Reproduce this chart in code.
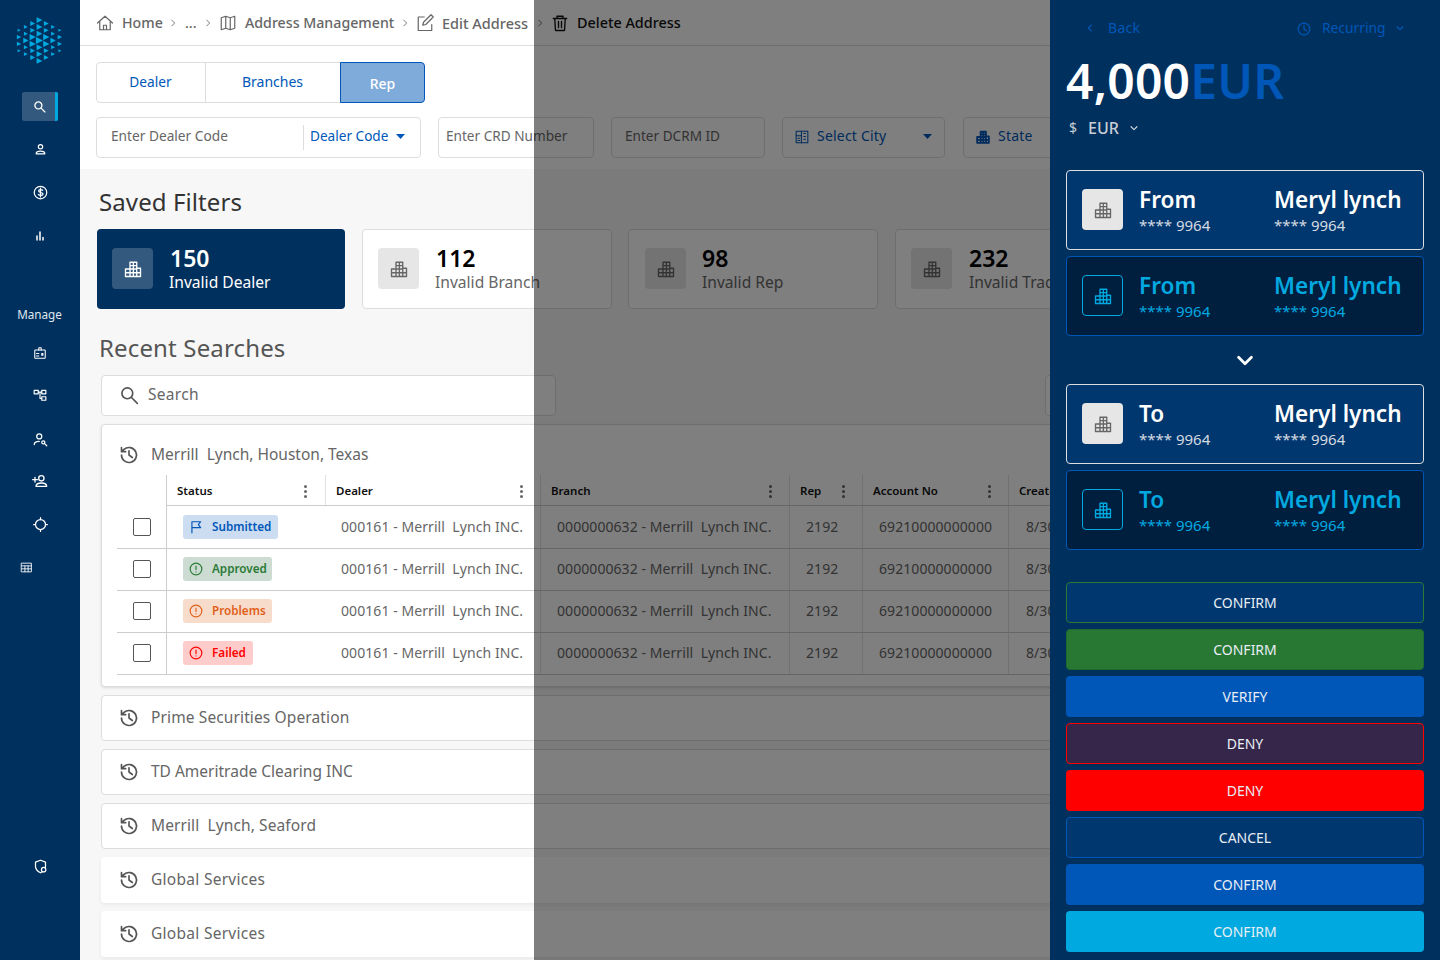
<!DOCTYPE html>
<html>
<head>
<meta charset="utf-8">
<title>Delete Address</title>
<script src="https://cdn.jsdelivr.net/npm/chart.js@4"></script>
<style>
* { box-sizing: border-box; }
html, body { margin: 0; width: 1440px; height: 960px; overflow: hidden; background: #fff; }
body { font-family: "Noto Sans", sans-serif; color: #555; position: relative; }
.a { position: absolute; white-space: pre; }
.t { position: absolute; white-space: pre; line-height: 1; transform: translateY(-50%); }
svg { position: absolute; display: block; overflow: visible; }
</style>
</head>
<body>
<div id="page"></div>
<script>
const tabs = ['Dealer', 'Branches', 'Rep'];
const filterCounts = [150, 112, 98, 232];
const filterNames = ['Invalid Dealer', 'Invalid Branch', 'Invalid Rep', 'Invalid Trade'];
const headers = ['Status', 'Dealer', 'Branch', 'Rep', 'Account No', 'Created'];
const statuses = ['Submitted', 'Approved', 'Problems', 'Failed'];
const dealerCell = '000161 - Merrill  Lynch INC.';
const branchCell = '0000000632 - Merrill  Lynch INC.';
const repCell = '2192';
const accountCell = '69210000000000';
const createdCell = '8/30/2021';
const searches = ['Prime Securities Operation', 'TD Ameritrade Clearing INC', 'Merrill  Lynch, Seaford', 'Global Services', 'Global Services'];
const buttons = ['CONFIRM', 'CONFIRM', 'VERIFY', 'DENY', 'DENY', 'CANCEL', 'CONFIRM', 'CONFIRM'];

const navy = '#00305e', blue = '#0057b8', cyan = '#00a9e0';
const page = document.getElementById('page');
let html = '';

function rect(x, y, w, h, css) { html += `<div class="a" style="left:${x}px;top:${y}px;width:${w}px;height:${h}px;${css || ''}"></div>`; }
function text(x, y, s, size, color, weight, extra) {
    html += `<div class="t" style="left:${x}px;top:${y}px;font-size:${size}px;color:${color};font-weight:${weight || 400};${extra || ''}">${s}</div>`;
}
function icon(x, y, size, body, color, sw) {
    html += `<svg style="left:${x - size / 2}px;top:${y - size / 2}px" width="${size}" height="${size}" viewBox="0 0 24 24" fill="none" stroke="${color}" stroke-width="${sw || 2}" stroke-linecap="round" stroke-linejoin="round">${body}</svg>`;
}

const ICON = {
    home: '<path d="M2 12 12 3l10 9M5 9.500V21h14V9.500M10 21v-6h4v6"/>',
    map: '<path d="M3 5l6-2 6 2 6-2v16l-6 2-6-2-6 2zM9 3v16M15 5v16"/>',
    edit: '<path d="M11 4H3v18h18v-8M9 15l1-4L20 1l3 3-10 10z"/>',
    trash: '<path d="M3 6h18M8 6V3h8v3M5 6l1 16h12l1-16M10 10v8M14 10v8"/>',
    search: '<circle cx="10" cy="10" r="6.500"/><path d="M15 15l7 7"/>',
    person: '<circle cx="12" cy="7" r="4"/><path d="M4 20c0-4 3-5 8-5s8 1 8 5z"/>',
    dollar: '<circle cx="12" cy="12" r="10"/><path d="M15.500 8.500c-1-1.500-6.500-2-6.500 1 0 3.500 7 1.500 7 5 0 3-6 2.500-7.500 .5M12 5v14"/>',
    bars: '<path d="M6 12v8M12 4v16M18 15v5"/>',
    badge: '<rect x="3" y="7" width="18" height="14" rx="1"/><path d="M10 7V3h4v4M6 13h4M6 17h4M15 13h2v3h-2z"/>',
    tree: '<rect x="2" y="4" width="7" height="6"/><rect x="15" y="4" width="7" height="6"/><rect x="15" y="15" width="7" height="6"/><path d="M9 7h6M12 7v11h3"/>',
    personSearch: '<circle cx="10" cy="7" r="4"/><path d="M2 20c0-4 3-5 8-5M19 16.500a2.500 2.500 0 1 1-5 0 2.500 2.500 0 0 1 5 0zM19 19l3 3"/>',
    personAdd: '<circle cx="14" cy="8" r="4"/><path d="M6 20c0-3 3-5 8-5s8 2 8 5zM1 10h7M4.500 6.500v7"/>',
    target: '<circle cx="12" cy="12" r="8"/><path d="M12 1v3M12 20v3M1 12h3M20 12h3"/>',
    grid: '<rect x="3" y="4" width="18" height="16"/><path d="M3 9h18M3 14.500h18M9 9v11M15 9v11"/>',
    shield: '<path d="M12 2l8 3v7c0 5-4 8-8 10-4-2-8-5-8-10V5z"/><circle cx="17" cy="17" r="3.500" fill="#00305e"/>',
    history: '<path d="M3 12a9 9 0 1 0 3-6.700L3 8M3 3v5h5M12 7v5l4 3"/>',
    flag: '<path d="M5 22V3h15l-4 5 4 5H5"/>',
    alert: '<circle cx="12" cy="12" r="10"/><path d="M12 7v6M12 17v.2"/>',
    clock: '<circle cx="12" cy="12" r="10"/><path d="M12 6v6l4 3"/>',
    building: '<path d="M2 22V12h6V3h9v8h5v11zM2 17h20M8 12h9M8 7.500h9M8 3v19M12.500 3v19M17 11v11"/>',
    city: '<rect x="2" y="2" width="20" height="20"/><path d="M2 10h9M11 2v20M5 14h3M5 18h3M15 6h3M15 11h3M15 16h3"/>',
    chevDown: '<path d="M5 9l7 7 7-7"/>',
    chevRight: '<path d="M9 5l7 7-7 7"/>',
    chevLeft: '<path d="M15 5l-7 7 7 7"/>',
};
function caret(x, y, color) {
    html += `<svg style="left:${x}px;top:${y}px" width="9" height="5" viewBox="0 0 9 5"><path d="M0 0h9L4.500 5z" fill="${color}"/></svg>`;
}
function kebab(x, y) {
    for (let i = 0; i < 3; i++) rect(x - 1.5, y - 6 + i * 5, 3, 3, 'background:#666;border-radius:50%');
}

// main page
rect(80, 45, 970, 1, 'background:#ddd');
rect(80, 169, 970, 791, 'background:#f7f7f7');

// breadcrumb
icon(105, 23, 18, ICON.home, '#666', 1.6);
text(122, 23, 'Home', 14.2, '#666', 500);
icon(173, 23, 10, ICON.chevRight, '#666');
text(185, 23, '...', 14.2, '#666', 500);
icon(208, 23, 10, ICON.chevRight, '#666');
icon(228, 23, 18, ICON.map, '#666', 1.6);
text(245, 23, 'Address Management', 14.2, '#666', 500);
icon(405, 23, 10, ICON.chevRight, '#666');
icon(425, 23, 18, ICON.edit, '#666', 1.6);
text(442, 23, 'Edit Address', 14.5, '#666', 500);
icon(540, 23, 10, ICON.chevRight, '#555');
icon(560, 23, 18, ICON.trash, '#111', 1.8);
text(577, 23, 'Delete Address', 14.4, '#111', 500);

// tabs
rect(96, 62, 110, 41, 'border:1px solid #ddd;background:#fff;border-radius:4px 0 0 4px');
rect(205, 62, 136, 41, 'border:1px solid #ddd;background:#fff');
rect(340, 62, 85, 41, 'border:1px solid #0057b8;background:#7fabdb;border-radius:0 4px 4px 0');
text(150.500, 81.500, tabs[0], 13.700, blue, 400, 'transform:translate(-50%,-50%)');
text(272.500, 81.500, tabs[1], 14, blue, 400, 'transform:translate(-50%,-50%)');
text(382.500, 83.500, tabs[2], 14, '#fff', 500, 'transform:translate(-50%,-50%)');

// inputs
rect(96, 117, 325, 41, 'border:1px solid #ddd;background:#fff;border-radius:4px');
text(111, 136, 'Enter Dealer Code', 13.700, '#666');
rect(303, 125, 1, 25, 'background:#ddd');
text(310, 136, 'Dealer Code', 13.600, blue);
caret(396, 134, blue);
rect(438, 117, 156, 41, 'border:1px solid #ddd;background:#fff;border-radius:4px');
text(446, 136, 'Enter CRD Number', 13.600, '#666');
rect(611, 117, 154, 41, 'border:1px solid #ddd;background:#fff;border-radius:4px');
text(625, 136, 'Enter DCRM ID', 13.600, '#666');
rect(782, 117, 163, 41, 'border:1px solid #ddd;background:#fff;border-radius:4px');
icon(802, 137, 14, ICON.city, blue, 1.8);
text(817, 136, 'Select City', 14, blue, 400, 'letter-spacing:.2px');
caret(923, 134, blue);
rect(963, 117, 120, 41, 'border:1px solid #ddd;background:#fff;border-radius:4px');
icon(983, 137, 14, ICON.building, blue, 3.2);
text(998, 136, 'State', 14, blue, 400, 'letter-spacing:.2px');

// saved filters
text(99, 202, 'Saved Filters', 24, '#333', 400, 'letter-spacing:.1px');
const cardX = [97, 362, 628, 895];
const cardW = [248, 250, 250, 250];
const boxOffset = [15, 16, 17, 16];
filterCounts.forEach((n, i) => {
    const x = cardX[i], first = i === 0;
    rect(x, 229, cardW[i], 79.500, first ? `background:${navy};border-radius:4px` : 'border:1px solid #ddd;background:#fff;border-radius:4px');
    rect(x + boxOffset[i], 248, 41, 41, `border-radius:4px;background:${first ? '#33597f' : '#e6e6e6'}`);
    icon(x + boxOffset[i] + 21, 268.500, 18, ICON.building, first ? '#fff' : '#666', 1.8);
    text(x + (first ? 73 : 74), 257.500, String(n), 23, first ? '#fff' : '#000', 600);
    text(x + (first ? 72 : i === 1 ? 73 : 74), 283, filterNames[i], 15.600, first ? '#fff' : '#666');
});

// recent searches
text(99, 348, 'Recent Searches', 24, '#555', 400, 'letter-spacing:.15px');
rect(101, 375, 455, 41, 'border:1px solid #ddd;background:#fff;border-radius:4px');
icon(128.500, 394.500, 20, ICON.search, '#555', 2);
text(148, 394.500, 'Search', 15.500, '#666', 400, 'letter-spacing:.3px');
rect(1045, 375, 20, 41, 'border:1px solid #ddd;background:#fff;border-radius:4px');

// expanded result with its table
rect(101, 424, 1000, 263, 'border:1px solid #ddd;background:#fff;border-radius:4px;box-shadow:0 1px 3px rgba(0,0,0,.12)');
icon(129, 455, 20, ICON.history, '#555', 2);
text(151, 454.500, 'Merrill  Lynch, Houston, Texas', 15.500, '#666');

const colLines = [166, 325, 540, 789, 862, 1008];
const headX = [177, 336, 551, 800, 873, 1019];
const cellX = [0, 341, 557, 806, 879, 1026];
const kebabX = [305, 521, 770, 843, 989];
colLines.forEach((x, i) => rect(x, 475, 1, x === 325 ? 30 : 200, 'background:' + (i === 0 ? '#ccc' : '#e2e2e2')));
[505, 548, 590, 632, 674].forEach(y => rect(y === 505 ? 166 : 117, y, 980, 1, 'background:#ccc'));
headers.forEach((h, i) => text(headX[i], 491, h, 11.500, '#111', 600));
kebabX.forEach(x => kebab(x, 491));

const chipStyle = {
    Submitted: { w: 95, bg: '#ccddf1', fg: blue, ic: ICON.flag },
    Approved: { w: 89, bg: '#cddcd3', fg: '#2a7a36', ic: ICON.alert },
    Problems: { w: 89, bg: '#f8dccb', fg: '#e0601a', ic: ICON.alert },
    Failed: { w: 70, bg: '#ffcccc', fg: '#f00', ic: ICON.alert },
};
const cellCss = 'letter-spacing:.07px';
statuses.forEach((s, i) => {
    const y = 527 + i * 42;
    const c = chipStyle[s];
    rect(133, y - 9, 18, 18, 'border:1.500px solid #555;border-radius:2px;background:#fff');
    rect(183, y - 12, c.w, 24, `background:${c.bg};border-radius:3px`);
    icon(196, y, 14, c.ic, c.fg, 2);
    text(212, y, s, 11.700, c.fg, 600);
    text(cellX[1], y - .5, dealerCell, 14, '#666', 400, cellCss);
    text(cellX[2], y - .5, branchCell, 14, '#666', 400, cellCss);
    text(cellX[3], y - .5, repCell, 14, '#666', 400, cellCss);
    text(cellX[4], y - .5, accountCell, 14, '#666', 400, cellCss);
    text(cellX[5], y - .5, createdCell, 14, '#666', 400, cellCss);
});

// collapsed results
const searchSpacing = [.12, 0, .1, .28, .28];
searches.forEach((s, i) => {
    const y = 695 + i * 54;
    const css = i < 3 ? 'border:1px solid #ddd;' : 'box-shadow:0 2px 4px rgba(0,0,0,.06);';
    rect(101, y, 1000, 46, css + 'background:#fff;border-radius:4px');
    icon(129, y + 23, 20, ICON.history, '#555', 2);
    text(151, y + 22.500, s, 15.500, '#666', 400, `letter-spacing:${searchSpacing[i]}px`);
});

// dim layer over the middle of the page
rect(534, 0, 516, 960, 'background:rgba(0,0,0,.5)');

// left rail
rect(0, 0, 80, 960, `background:${navy}`);
let logo = '';
for (let c = -3; c <= 3; c++) {
    const rows = 7 - Math.abs(c);
    for (let r = 0; r < rows; r++) {
        const ox = 39.500 + c * 6.800, oy = 40.500 + (r - (rows - 1) / 2) * 6.800;
        const s = 1.500 + (3 - Math.abs(c)) * .45 + (Math.abs(r - (rows - 1) / 2) < 1 ? .7 : 0);
        logo += `<path d="M${ox - s} ${oy - s}L${ox + s} ${oy}L${ox - s} ${oy + s}z" fill="${cyan}"/>`;
    }
}
html += `<svg style="left:0;top:0" width="80" height="80">${logo}</svg>`;
rect(22, 92, 36, 29, 'background:#33597f;border-radius:2px');
rect(55, 92, 3, 29, `background:${cyan};border-radius:0 2px 2px 0`);
icon(39, 106, 13, ICON.search, '#fff', 2.4);
icon(40, 149, 13, ICON.person, '#fff', 2.2);
icon(40, 192, 15, ICON.dollar, '#fff', 2);
icon(40, 236, 12, ICON.bars, '#fff', 3);
text(39.500, 314.500, 'Manage', 11.700, '#dfe6ee', 400, 'transform:translate(-50%,-50%)');
icon(40, 353, 14, ICON.badge, '#fff', 1.8);
icon(40, 395, 14, ICON.tree, '#fff', 2);
icon(40, 439, 15, ICON.personSearch, '#fff', 2);
icon(40, 481, 16, ICON.personAdd, '#fff', 2);
icon(40, 524, 15, ICON.target, '#fff', 2);
icon(26, 567, 13, ICON.grid, '#fff', 1.6);
icon(40, 866, 15, ICON.shield, '#fff', 2);

// right panel
rect(1050, 0, 390, 960, `background:${navy}`);
icon(1090, 28, 10, ICON.chevLeft, blue, 3);
text(1108, 27.500, 'Back', 14, blue, 400, 'letter-spacing:.3px');
icon(1304, 29, 14, ICON.clock, blue, 2);
text(1322, 27.500, 'Recurring', 13.800, blue);
icon(1400, 28, 10, ICON.chevDown, blue, 3);
text(1066, 81, '4,000<span style="color:#0057b8">EUR</span>', 48, '#fff', 600, 'letter-spacing:.2px');
text(1069, 128, '$', 14, '#c8ced6');
text(1088, 128, 'EUR', 16, '#c8ced6', 500);
icon(1134, 128, 10, ICON.chevDown, '#c8ced6', 3);

function accountCard(y, label, selected) {
    const fg = selected ? cyan : '#fff';
    const sub = selected ? cyan : '#d5dae1';
    rect(1066, y, 358, 80, selected ? 'background:#001e3e;border:1px solid #0057b8;border-radius:4px' : 'background:#00376f;border:1px solid #ddd;border-radius:4px');
    rect(1082, y + 19, 41, 41, selected ? `border:1px solid ${cyan};border-radius:4px` : 'background:#e6e6e6;border-radius:4px');
    icon(1103, y + 40, 18, ICON.building, selected ? cyan : '#666', 1.8);
    text(1139, y + 30, label, 22.600, fg, 600);
    text(1139, y + 55, '**** 9964', 15, sub);
    text(1274, y + 30, 'Meryl lynch', 22.600, fg, 600);
    text(1274, y + 55, '**** 9964', 15, sub);
}
accountCard(170, 'From', false);
accountCard(256, 'From', true);
icon(1245, 360, 22, ICON.chevDown, '#fff', 3);
accountCard(384, 'To', false);
accountCard(470, 'To', true);

const buttonCss = [
    'background:#00376f;border:1px solid #2a7a36',
    'background:#287834;border:1px solid #1e6a2e',
    'background:#0057b8',
    'background:#36264a;border:1px solid #f00',
    'background:#f00',
    'background:#00376f;border:1px solid #0057b8',
    'background:#0057b8',
    'background:#00a9e0',
];
buttons.forEach((b, i) => {
    const y = 582 + i * 47;
    rect(1066, y, 358, 41, buttonCss[i] + ';border-radius:4px');
    text(1245, y + 21, b, 14, '#e8eef5', 400, 'transform:translate(-50%,-50%)');
});

page.innerHTML = html;
</script>
</body>
</html>
